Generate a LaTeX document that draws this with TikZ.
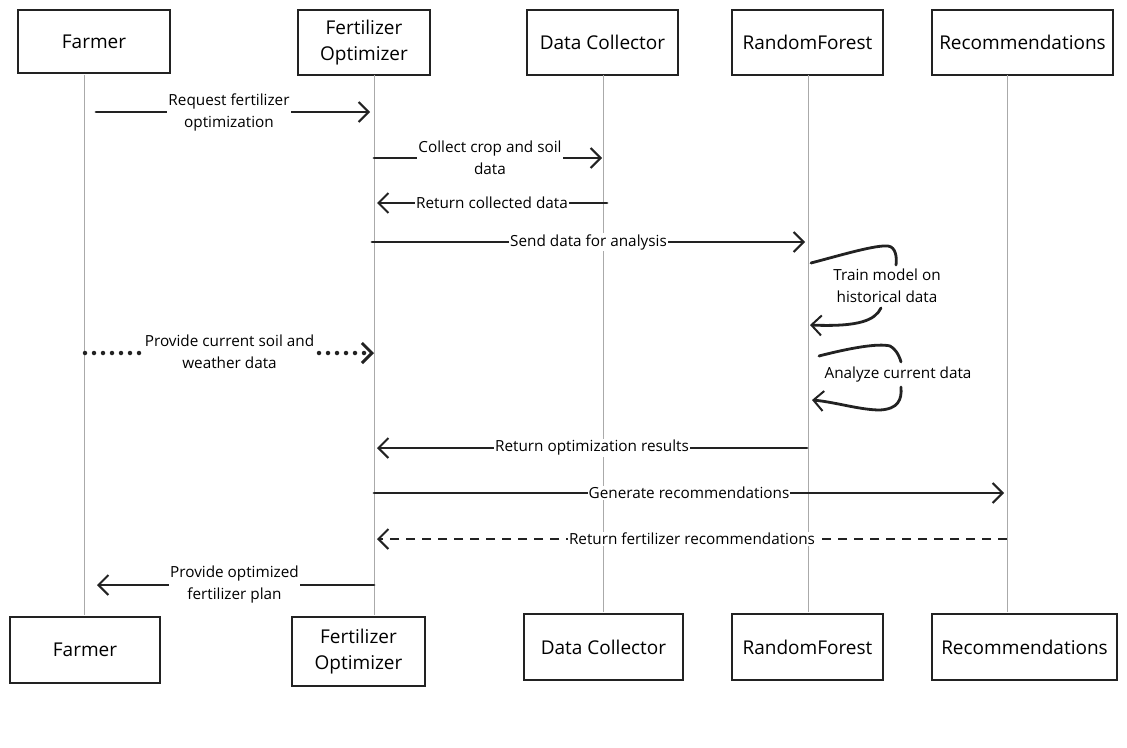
\documentclass[tikz,border=0pt]{standalone}
\usepackage{fontspec}
\setmainfont{Open Sans}
\usetikzlibrary{arrows.meta}
\definecolor{ink}{HTML}{222222}
\definecolor{lifegray}{HTML}{AAAAAA}
\begin{document}
\begin{tikzpicture}[x=1pt,y=-1pt,
  actor/.style={draw=ink, line width=1.8pt, align=center, inner sep=0pt,
    font=\fontsize{19}{26}\selectfont},
  lifeline/.style={draw=lifegray, line width=1pt},
  msgtext/.style={fill=white, inner sep=1pt, align=center,
    font=\fontsize{15.3}{22}\selectfont},
  barb/.style={-{Straight Barb[length=10pt,width=20pt,line width=2pt]}},
  msg/.style={draw=ink, line width=2.8pt, line cap=round, barb},
  dashmsg/.style={draw=ink, line width=2.2pt, dash pattern=on 9pt off 7pt, barb},
  dotmsg/.style={draw=ink, line width=4.5pt, line cap=round, dash pattern=on 0pt off 9pt,
    -{Straight Barb[length=10pt,width=20pt,line width=3pt]}},
  loopline/.style={draw=ink, line width=2.8pt, line cap=round},
]
\useasboundingbox (0,0) rectangle (1127,747);

% participant boxes, top row
\node[actor, minimum width=152pt, minimum height=63pt] (farmerT) at (94,41.5) {Farmer};
\node[actor, minimum width=132pt, minimum height=65pt] (optT) at (364,42.5) {Fertilizer\\Optimizer};
\node[actor, minimum width=151pt, minimum height=65pt] (dataT) at (602.5,42.5) {Data Collector};
\node[actor, minimum width=151pt, minimum height=65pt] (rfT) at (807.5,42.5) {RandomForest};
\node[actor, minimum width=181pt, minimum height=65pt] (recT) at (1022.5,42.5) {Recommendations};

% participant boxes, bottom row
\node[actor, minimum width=150pt, minimum height=66pt] (farmerB) at (85,650) {Farmer};
\node[actor, minimum width=133pt, minimum height=69pt] (optB) at (358.5,651.5) {Fertilizer\\Optimizer};
\node[actor, minimum width=159pt, minimum height=66pt] (dataB) at (603.5,647) {Data Collector};
\node[actor, minimum width=151pt, minimum height=66pt] (rfB) at (807.5,647) {RandomForest};
\node[actor, minimum width=185pt, minimum height=66pt] (recB) at (1024.5,647) {Recommendations};

% lifelines
\coordinate (farmerL1) at (84,75);   \coordinate (farmerL2) at (84,615);
\coordinate (optL1) at (374,75);     \coordinate (optL2) at (374,615);
\coordinate (dataL1) at (603,75);    \coordinate (dataL2) at (603,612);
\coordinate (rfL1) at (808,75);      \coordinate (rfL2) at (808,612);
\coordinate (recL1) at (1007,75);    \coordinate (recL2) at (1007,612);
\foreach \p in {farmer,opt,data,rf,rec}
  \draw[lifeline] (\p L1) -- (\p L2);

% message end points
\coordinate (m1a) at (96,112);  \coordinate (m1b) at (370,112);
\coordinate (m2a) at (374,158); \coordinate (m2b) at (602,158);
\coordinate (m3a) at (607,203); \coordinate (m3b) at (377,203);
\coordinate (m4a) at (372,242); \coordinate (m4b) at (805,242);
\coordinate (m6a) at (85,353);  \coordinate (m6b) at (374,353);
\coordinate (m8a) at (807,448); \coordinate (m8b) at (377,448);
\coordinate (m9a) at (374,493); \coordinate (m9b) at (1004,493);
\coordinate (m10a) at (1007,539); \coordinate (m10b) at (377,539);
\coordinate (m11a) at (374,585); \coordinate (m11b) at (97,585);

% messages
\draw[msg] (m1a) -- node[msgtext, xshift=-4pt] {Request fertilizer\\optimization} (m1b);
\draw[msg] (m2a) -- node[msgtext, xshift=2pt] {Collect crop and soil\\data} (m2b);
\draw[msg] (m3a) -- node[msgtext] {Return collected data} (m3b);
\draw[msg] (m4a) -- node[msgtext] {Send data for analysis} (m4b);
\draw[dotmsg] (m6a) -- node[msgtext, yshift=1pt] {Provide current soil and\\weather data} (m6b);
\draw[msg] (m8a) -- node[msgtext] {Return optimization results} (m8b);
\draw[msg] (m9a) -- node[msgtext] {Generate recommendations} (m9b);
\draw[dashmsg] (m10a) -- node[msgtext] {Return fertilizer recommendations} (m10b);
\draw[msg] (m11a) -- node[msgtext, xshift=-1pt] {Provide optimized\\fertilizer plan} (m11b);

% self messages on RandomForest
\coordinate (s1a) at (811,263); \coordinate (s1b) at (810,325);
\node[msgtext, fill=none] (s1t) at (887,286) {Train model on\\historical data};
\draw[loopline] (s1a) .. controls (845,254) and (875,245) .. (888,246)
  .. controls (896,247) and (897,258) .. (896,265);
\draw[loopline, barb] (881,308) .. controls (875,320) and (860,327) .. (s1b);

\coordinate (s2a) at (819,356); \coordinate (s2b) at (812,400);
\node[msgtext, fill=none] (s2t) at (898,375) {Analyze current data};
\draw[loopline] (s2a) .. controls (850,348) and (878,343) .. (890,346)
  .. controls (897,350) and (900,358) .. (901,362);
\draw[loopline, barb] (901,387) .. controls (902,400) and (898,409) .. (880,410)
  .. controls (860,410) and (835,402) .. (s2b);
\end{tikzpicture}
\end{document}
